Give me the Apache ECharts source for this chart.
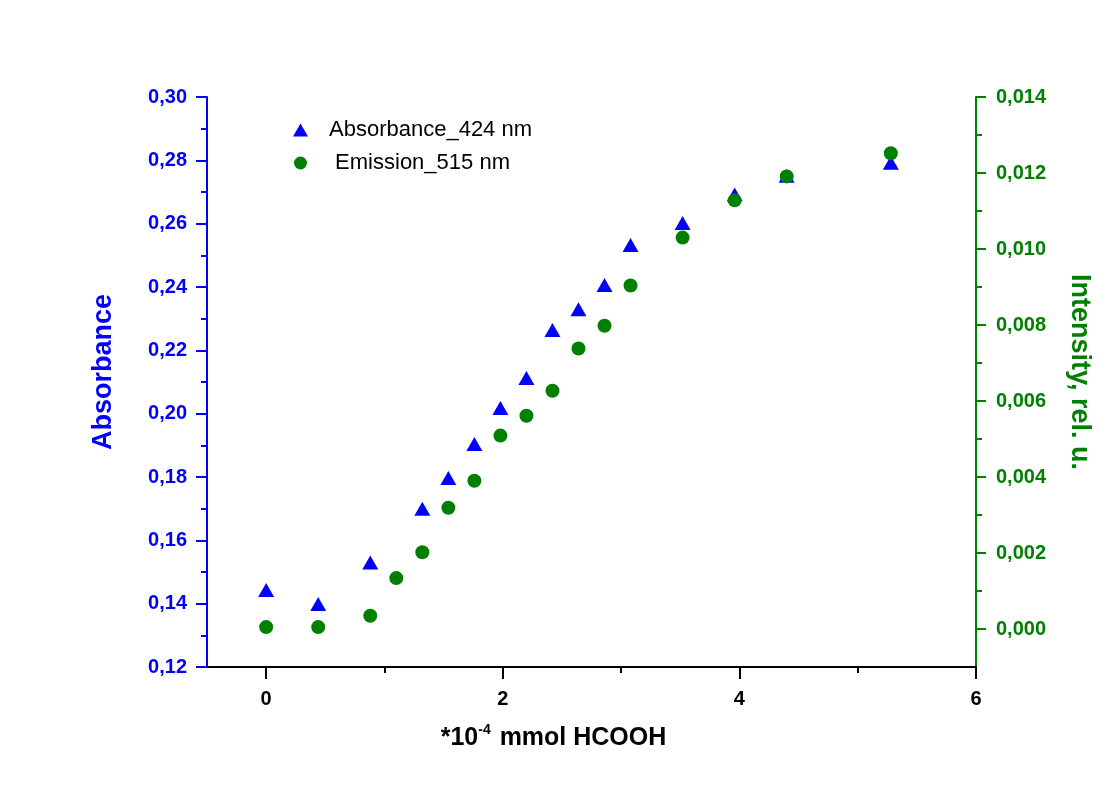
<!DOCTYPE html>
<html>
<head>
<meta charset="utf-8">
<script src="https://cdn.jsdelivr.net/npm/echarts@6/dist/echarts.min.js"></script>
<style>
  html, body { margin: 0; padding: 0; background: #ffffff; }
  #chart { width: 1117px; height: 789px; }
</style>
</head>
<body>
<div id="chart"></div>
<script>
// Formic acid titration: absorbance at 424 nm and emission at 515 nm
const absX = [0, 0.44, 0.88, 1.32, 1.54, 1.76, 1.98, 2.2, 2.42, 2.64, 2.86, 3.08, 3.52, 3.96, 4.4, 5.28];
const absY = [0.1443, 0.1399, 0.1530, 0.1700, 0.1797, 0.1904, 0.2018, 0.2113, 0.2264, 0.2330, 0.2406, 0.2533, 0.2602, 0.2692, 0.2751, 0.2792];

const emX = [0, 0.44, 0.88, 1.1, 1.32, 1.54, 1.76, 1.98, 2.2, 2.42, 2.64, 2.86, 3.08, 3.52, 3.96, 4.4, 5.28];
const emY = [0.00005, 0.00005, 0.00035, 0.00134, 0.00202, 0.00319, 0.00390, 0.00509, 0.00561, 0.00627, 0.00738, 0.00798, 0.00904, 0.01030, 0.01128, 0.01191, 0.01252];

const xMajorTicks = [0, 2, 4, 6];
const xMinorTicks = [1, 3, 5];
const rightMajorTicks = [0, 0.002, 0.004, 0.006, 0.008, 0.010, 0.012, 0.014];
const rightMinorTicks = [0.001, 0.003, 0.005, 0.007, 0.009, 0.011, 0.013];

const absName = 'Absorbance_424 nm';
const emName = ' Emission_515 nm';

const BLUE = '#0000ff';
const GREEN = '#008000';
const FONT = '"Liberation Sans", Arial, sans-serif';

const comma = (v, d) => v.toFixed(d).replace('.', ',');

const gridBox = { left: 207, right: 141, top: 97, bottom: 122, containLabel: false };

const chart = echarts.init(document.getElementById('chart'), null, { renderer: 'canvas' });

chart.setOption({
  animation: false,
  backgroundColor: '#ffffff',
  textStyle: { fontFamily: FONT },
  grid: [Object.assign({}, gridBox), Object.assign({}, gridBox)],
  legend: {
    orient: 'vertical',
    left: 288,
    top: 114,
    itemWidth: 15,
    itemHeight: 13,
    itemGap: 11,
    data: [absName, emName],
    itemStyle: { opacity: 1 },
    textStyle: { fontFamily: FONT, fontSize: 22, color: '#000000', lineHeight: 22, padding: [0, 0, 0, 16] }
  },
  xAxis: [
    {
      type: 'value', gridIndex: 0, min: -0.5, max: 6,
      name: '{b|*10}{s|-4}{b| mmol HCOOH}',
      nameLocation: 'middle', nameGap: 56,
      nameTextStyle: {
        padding: [0, 76, 0, 0],
        rich: {
          b: { fontFamily: FONT, fontSize: 25, fontWeight: 'bold', color: '#000000', verticalAlign: 'bottom', lineHeight: 28 },
          s: { fontFamily: FONT, fontSize: 14, fontWeight: 'bold', color: '#000000', verticalAlign: 'top', lineHeight: 28, padding: [0, 2, 10, 0] }
        }
      },
      axisLine: { show: true, onZero: false, lineStyle: { color: '#000000', width: 2 } },
      axisTick: { show: true, customValues: xMajorTicks, length: 12, lineStyle: { color: '#000000', width: 2 } },
      axisLabel: { show: true, customValues: xMajorTicks, margin: 22, fontFamily: FONT, fontSize: 20, fontWeight: 'bold', color: '#000000' },
      splitLine: { show: false }
    },
    {
      type: 'value', gridIndex: 1, min: -0.5, max: 6,
      axisLine: { show: false, onZero: false },
      axisTick: { show: true, customValues: xMinorTicks, length: 6, lineStyle: { color: '#000000', width: 2 } },
      axisLabel: { show: false },
      splitLine: { show: false }
    }
  ],
  yAxis: [
    {
      type: 'value', gridIndex: 0, position: 'left', min: 0.12, max: 0.30, interval: 0.02,
      name: 'Absorbance', nameLocation: 'middle', nameGap: 90,
      nameTextStyle: { fontFamily: FONT, fontSize: 27, fontWeight: 'bold', color: BLUE, padding: [0, 0, 0, 20] },
      axisLine: { show: true, onZero: false, lineStyle: { color: BLUE, width: 2 } },
      axisTick: { show: true, length: 11, lineStyle: { color: BLUE, width: 2 } },
      minorTick: { show: true, splitNumber: 2, length: 6, lineStyle: { color: BLUE, width: 2 } },
      axisLabel: { margin: 20, fontFamily: FONT, fontSize: 20, fontWeight: 'bold', color: BLUE, formatter: v => comma(v, 2) },
      splitLine: { show: false }
    },
    {
      type: 'value', gridIndex: 0, position: 'right', min: -0.001, max: 0.014,
      name: 'Intensity, rel. u.', nameLocation: 'middle', nameGap: 90, nameRotate: -90,
      nameTextStyle: { fontFamily: FONT, fontSize: 27, fontWeight: 'bold', color: GREEN, padding: [0, 20, 0, 0] },
      axisLine: { show: true, onZero: false, lineStyle: { color: GREEN, width: 2 } },
      axisTick: { show: true, customValues: rightMajorTicks, length: 10, lineStyle: { color: GREEN, width: 2 } },
      axisLabel: { customValues: rightMajorTicks, margin: 20, fontFamily: FONT, fontSize: 20, fontWeight: 'bold', color: GREEN, formatter: v => comma(v, 3) },
      splitLine: { show: false }
    },
    {
      type: 'value', gridIndex: 1, position: 'right', min: -0.001, max: 0.014,
      axisLine: { show: false, onZero: false },
      axisTick: { show: true, customValues: rightMinorTicks, length: 6, lineStyle: { color: GREEN, width: 2 } },
      axisLabel: { show: false },
      splitLine: { show: false }
    }
  ],
  series: [
    {
      name: absName, type: 'scatter', xAxisIndex: 0, yAxisIndex: 0,
      symbol: 'triangle', symbolSize: [16, 14],
      itemStyle: { color: BLUE, opacity: 1 },
      data: absX.map((x, i) => [x, absY[i]])
    },
    {
      name: emName, type: 'scatter', xAxisIndex: 0, yAxisIndex: 1,
      symbol: 'circle', symbolSize: 14,
      itemStyle: { color: GREEN, opacity: 1 },
      data: emX.map((x, i) => [x, emY[i]])
    }
  ]
});
</script>
</body>
</html>
